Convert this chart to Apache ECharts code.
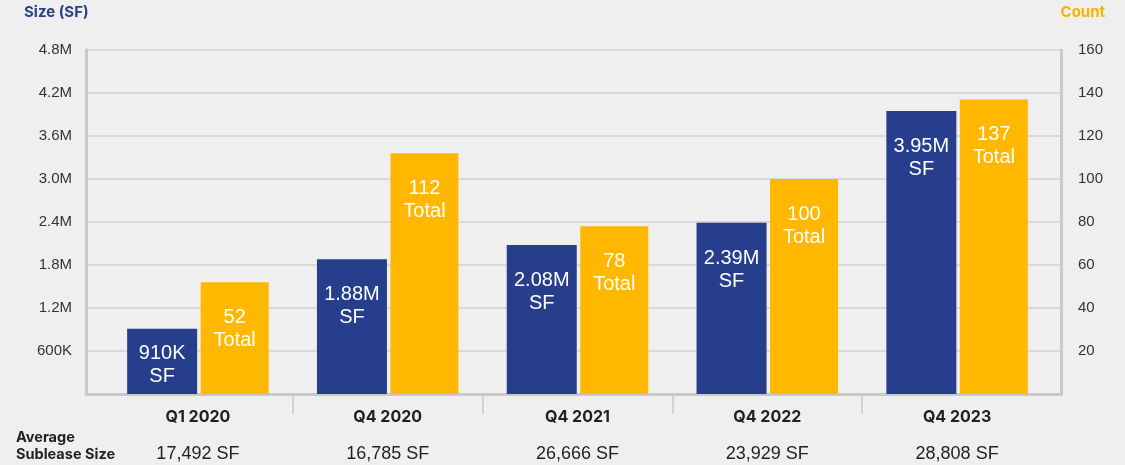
<!DOCTYPE html>
<html>
  <head>
    <meta charset="UTF-8">
    <title>Sublease size and count</title>
    <script src="https://cdn.jsdelivr.net/npm/echarts@6/dist/echarts.min.js"></script>
    <style>
      html, body { margin: 0; padding: 0; background: #efefef; }
      #chart { width: 1125px; height: 465px; }
    </style>
  </head>
  <body>
    <div id="chart"></div>
    <script type="text/javascript">
     // data
     var quarters = ['Q1 2020', 'Q4 2020', 'Q4 2021', 'Q4 2022', 'Q4 2023'];
     var sizeSF = [910000, 1880000, 2080000, 2390000, 3950000];
     var counts = [52, 112, 78, 100, 137];
     var avgSize = ['17,492 SF', '16,785 SF', '26,666 SF', '23,929 SF', '28,808 SF'];

     var BLUE = '#263e8b';
     var GOLD = '#ffb700';
     var AXIS = '#c9c9c9';

     function fmtSize(v) {
       if (v === 0) return '';
       if (v < 1e6) return Math.round(v / 1000) + 'K';
       return (v / 1e6).toFixed(1) + 'M';
     }
     function fmtBarSize(v) {
       if (v < 1e6) return Math.round(v / 1000) + 'K';
       return (v / 1e6).toFixed(2) + 'M';
     }

     // separators between categories only (no end ticks)
     var sepTicks = [];
     for (var i = 1; i < quarters.length; i++) sepTicks.push(i);

     var chart = echarts.init(document.getElementById('chart'));

     var labelBase = {
       show: true,
       color: '#fff',
       fontFamily: 'Liberation Sans, Arial',
       fontSize: 20,
       lineHeight: 23,
       position: 'insideTop',
       distance: 24
     };

     chart.setOption({
       backgroundColor: '#efefef',
       animation: false,
       grid: [
         { left: 86, right: 64, top: 50, bottom: 71 },
         { left: 103, right: 73, top: 50, bottom: 71 }
       ],
       xAxis: [
         {
           gridIndex: 0, type: 'category', data: quarters,
           axisLine: { show: true, lineStyle: { color: AXIS, width: 3 } },
           axisTick: { show: false }, axisLabel: { show: false }
         },
         {
           gridIndex: 1, type: 'category', data: quarters, position: 'bottom',
           axisLine: { show: false },
           axisTick: { show: false },
           axisLabel: {
             margin: 8,
             formatter: function (v, i) {
               return '{c|' + v + '}\n{v|' + avgSize[i] + '}';
             },
             rich: {
               c: { fontFamily: 'Inter', fontWeight: 'bold', fontSize: 16, color: '#222', lineHeight: 30 },
               v: { fontFamily: 'Liberation Sans, Arial', fontSize: 18, color: '#222', lineHeight: 44 }
             }
           }
         },
         {
           gridIndex: 1, type: 'value', min: 0, max: quarters.length, position: 'bottom',
           axisLine: { show: false, onZero: false },
           axisLabel: { show: false },
           splitLine: { show: false },
           axisTick: {
             show: true, inside: false, length: 20, customValues: sepTicks,
             lineStyle: { color: AXIS, width: 1.5 }
           }
         }
       ],
       yAxis: [
         {
           gridIndex: 0, type: 'value', min: 0, max: 4800000, interval: 600000,
           axisLine: { show: true, lineStyle: { color: AXIS, width: 3 } },
           axisTick: { show: false },
           splitLine: { lineStyle: { color: '#d2d2d2', width: 1.5 } },
           axisLabel: {
             formatter: fmtSize, margin: 14,
             fontFamily: 'Liberation Sans, Arial', fontSize: 15, color: '#333'
           }
         },
         {
           gridIndex: 0, type: 'value', min: 0, max: 160, interval: 20, position: 'right',
           axisLine: { show: true, lineStyle: { color: AXIS, width: 3 } },
           axisTick: { show: false },
           splitLine: { show: false },
           axisLabel: {
             formatter: function (v) { return v === 0 ? '' : v; }, margin: 17,
             fontFamily: 'Liberation Sans, Arial', fontSize: 15, color: '#333'
           }
         },
         { gridIndex: 1, type: 'value', min: 0, max: 4800000, show: false },
         { gridIndex: 1, type: 'value', min: 0, max: 160, show: false, position: 'right' }
       ],
       graphic: [
         { type: 'text', left: 24, top: 5,
           style: { text: 'Size (SF)', fill: '#2b3f8f', font: 'bold 15px Inter' } },
         { type: 'text', right: 20, top: 5,
           style: { text: 'Count', fill: '#f5b400', font: 'bold 15px Inter' } },
         { type: 'text', left: 16, top: 429,
           style: { text: 'Average\nSublease Size', fill: '#222', font: 'bold 14.5px Inter', lineHeight: 17 } }
       ],
       series: [
         {
           name: 'Size (SF)', type: 'bar', xAxisIndex: 1, yAxisIndex: 2,
           barWidth: 70, barGap: '5%',
           itemStyle: { color: BLUE },
           label: Object.assign({}, labelBase, {
             formatter: function (p) { return fmtBarSize(p.value) + '\nSF'; }
           }),
           data: sizeSF.map(function (v) {
             return v < 1e6 ? { value: v, label: { position: 'inside', offset: [0, 4] } } : v;
           })
         },
         {
           name: 'Count', type: 'bar', xAxisIndex: 1, yAxisIndex: 3,
           barWidth: 68, barGap: '5%',
           itemStyle: { color: GOLD },
           label: Object.assign({}, labelBase, {
             formatter: function (p) { return p.value + '\nTotal'; }
           }),
           data: counts
         }
       ]
     });
    </script>
  </body>
</html>
